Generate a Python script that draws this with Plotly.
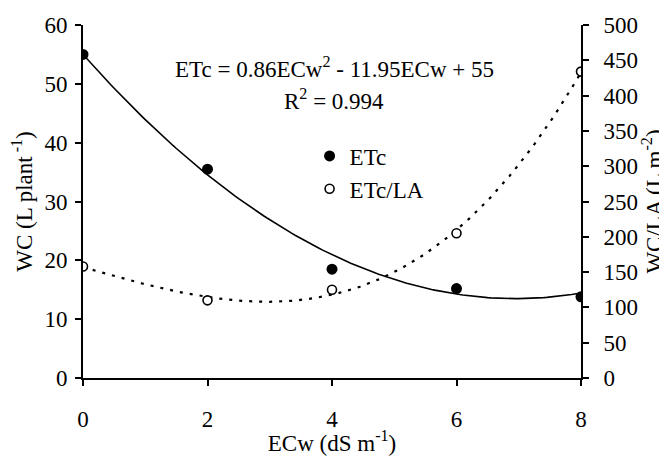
import numpy as np
import plotly.graph_objects as go

# ---- data ----
ecw = [0, 2, 4, 6, 8]
etc = [55.0, 35.5, 18.5, 15.2, 13.8]          # WC (L plant-1), left axis
etc_la = [158, 110, 125, 205, 434]            # WC/LA (L m-2), right axis
etc_fit_coef = [0.86, -11.95, 55]             # equation printed on the chart
x_ticks = [0, 2, 4, 6, 8]
eq_text = "ETc = 0.86ECw<sup>2</sup> - 11.95ECw + 55"
r2_text = "R<sup>2</sup> = 0.994"

FONT = "Liberation Serif"
FS = 23

xs = np.linspace(0, 8, 161)
etc_curve = np.polyval(etc_fit_coef, xs)
la_coef = np.polyfit(ecw, etc_la, 3)
la_curve = np.polyval(la_coef, xs)

fig = go.Figure()
fig.add_trace(go.Scatter(x=xs, y=etc_curve, mode="lines",
                         line=dict(color="black", width=1.6),
                         showlegend=False, hoverinfo="skip"))
fig.add_trace(go.Scatter(x=xs, y=la_curve, mode="lines", yaxis="y2",
                         line=dict(color="black", width=2.2, dash="3px,7px"),
                         showlegend=False, hoverinfo="skip"))
fig.add_trace(go.Scatter(x=ecw, y=etc, mode="markers", name="ETc",
                         legendgroup="a",
                         marker=dict(color="black", size=11, symbol="circle")))
fig.add_trace(go.Scatter(x=ecw, y=etc_la, mode="markers", name="ETc/LA",
                         yaxis="y2", legendgroup="b",
                         marker=dict(color="white", size=9, symbol="circle",
                                     line=dict(color="black", width=1.6))))

axis_common = dict(showline=True, linecolor="black", linewidth=2,
                   ticks="outside", ticklen=6, tickwidth=2, tickcolor="black",
                   showgrid=False, zeroline=False, automargin=False,
                   tickfont=dict(family=FONT, size=FS, color="black"))

# page body adds an 8px offset; figure is sized to fit the 667x456 window
fig.update_layout(
    width=659, height=448, autosize=False,
    margin=dict(l=75, r=86, t=17, b=78),
    paper_bgcolor="white", plot_bgcolor="white",
    font=dict(family=FONT, size=FS, color="black"),
    xaxis=dict(range=[0, 8], tickvals=x_ticks, ticklabelstandoff=13,
               title=dict(text="ECw (dS m<sup>-1</sup>)", standoff=18,
                          font=dict(family=FONT, size=FS)),
               **axis_common),
    yaxis=dict(range=[0, 60], dtick=10, ticklabelstandoff=3,
               title=dict(text="WC (L plant<sup> -1</sup>)", standoff=8,
                          font=dict(family=FONT, size=FS)),
               **axis_common),
    yaxis2=dict(range=[0, 500], dtick=50, overlaying="y", side="right",
                ticklabelstandoff=10,
                title=dict(text="WC/LA (L m<sup>-2</sup>)", standoff=4,
                           font=dict(family=FONT, size=FS)),
                **axis_common),
    legend=dict(x=0.455, y=0.69, xanchor="left", yanchor="top",
                bgcolor="rgba(0,0,0,0)", tracegroupgap=0, itemwidth=30,
                font=dict(family=FONT, size=FS)),
    annotations=[
        dict(text=eq_text, xref="paper", yref="paper", x=0.505, y=0.881,
             showarrow=False, xanchor="center", yanchor="middle",
             font=dict(family=FONT, size=FS)),
        dict(text=r2_text, xref="paper", yref="paper", x=0.505, y=0.788,
             showarrow=False, xanchor="center", yanchor="middle",
             font=dict(family=FONT, size=FS)),
    ],
)

fig.write_html("out.html")
